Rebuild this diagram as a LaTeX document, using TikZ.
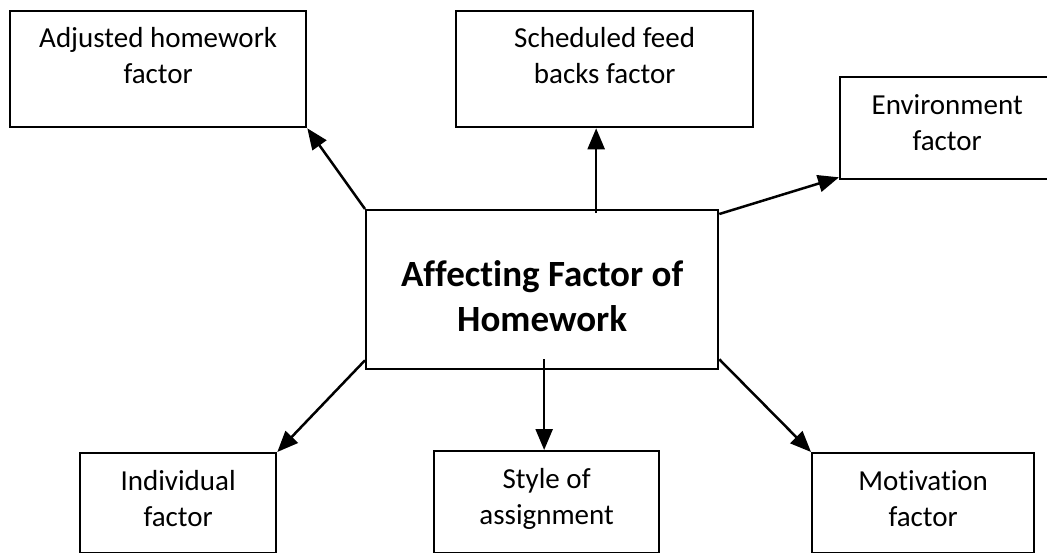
\documentclass[tikz,border=0pt]{standalone}
\usepackage{fontspec}
\setmainfont{Carlito}[Ligatures=NoCommon]
\usetikzlibrary{arrows.meta,calc}
\begin{document}
\begin{tikzpicture}[x=1pt,y=-1pt,
  box/.style={draw,line width=2.3pt,inner sep=0pt,anchor=north west},
  lbl/.style={align=center,font=\fontsize{29}{35.4}\selectfont,inner sep=0pt,anchor=base},
  big/.style={align=center,font=\fontsize{37}{45}\selectfont\bfseries,inner sep=0pt,anchor=base},
  link/.style={line width=2.5pt,-{Triangle[length=21pt,width=17pt]}}]
\useasboundingbox (0,0) rectangle (1047,552);

% boxes
\node[box,minimum width=296pt,minimum height=116pt] (adj)   at (9,10)    {};
\node[box,minimum width=297pt,minimum height=116pt] (sched) at (455,10)  {};
\node[box,minimum width=218pt,minimum height=102pt] (env)   at (839,76)  {};
\node[box,minimum width=352pt,minimum height=159pt] (ctr)   at (365,209) {};
\node[box,minimum width=196pt,minimum height=100pt] (ind)   at (79,452)  {};
\node[box,minimum width=225pt,minimum height=102pt] (sty)   at (433,450) {};
\node[box,minimum width=222pt,minimum height=100pt] (mot)   at (811,452) {};

% labels (anchored on the baseline of the second line)
\node[lbl] (adjT)   at ($(adj.north)+(0,73)$)   {Adjusted homework\\factor};
\node[lbl] (schedT) at ($(sched.north)+(0,73)$) {Scheduled feed\\backs factor};
\node[lbl] (envT)   at ($(env.north)+(-2,74)$)  {Environment\\factor};
\node[big] (ctrT)   at ($(ctr.north)+(0,122)$)  {Affecting Factor of\\Homework};
\node[lbl] (indT)   at ($(ind.north)+(0,74)$)   {Individual\\factor};
\node[lbl] (styT)   at ($(sty.north)+(0,74)$)   {Style of\\assignment};
\node[lbl] (motT)   at ($(mot.north)+(0,74)$)   {Motivation\\factor};

% connectors
\coordinate (sA) at ($(ctr.north)+(54,4)$);
\coordinate (sB) at ($(ctr.south)+(2,-11)$);
\draw[link] (ctr.north west) -- (adj.south east);
\draw[link] (sA) -- (sA |- sched.south);
\draw[link] ($(ctr.north east)+(0,5)$) -- ($(env.south west)+(0,-3)$);
\draw[link] ($(ctr.south west)+(0,-10)$) -- (ind.north east);
\draw[link] (sB) -- (sB |- sty.north);
\draw[link] ($(ctr.south east)+(0,-11)$) -- (mot.north west);
\end{tikzpicture}
\end{document}
